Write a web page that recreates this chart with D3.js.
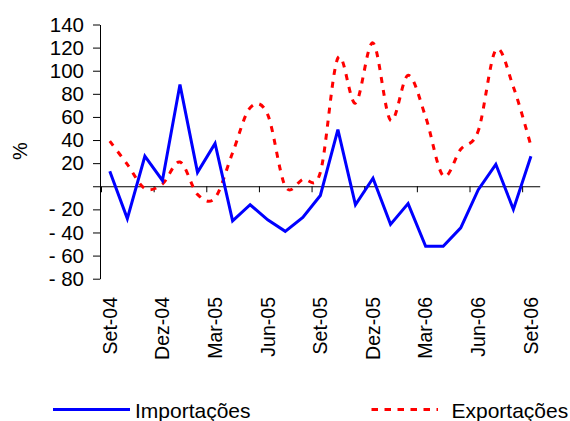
<!DOCTYPE html>
<html>
<head>
<meta charset="utf-8">
<script src="https://cdn.jsdelivr.net/npm/d3@7"></script>
<style>
  html, body { margin: 0; padding: 0; background: #fff; }
  svg { display: block; font-family: "Liberation Sans", Arial, sans-serif; }
</style>
</head>
<body>
<svg id="chart" width="570" height="421"></svg>
<script>
// Monthly categories, Sep 2004 – Sep 2006
const months = ["Set-04","Out-04","Nov-04","Dez-04","Jan-05","Fev-05","Mar-05","Abr-05","Mai-05",
  "Jun-05","Jul-05","Ago-05","Set-05","Out-05","Nov-05","Dez-05","Jan-06","Fev-06","Mar-06",
  "Abr-06","Mai-06","Jun-06","Jul-06","Ago-06","Set-06"];

// Year-on-year change, %
const importacoes = [13, -28, 26, 5, 88, 12, 37, -30, -16, -29, -39, -27, -8, 49, -16, 7, -33, -15, -52, -52, -36, -3, 19, -20, 26];
const exportacoes = [39, 19, -2, 2, 21, -7, -10, 29, 68, 62, 0, 6, 12, 111, 72, 124, 57, 96, 60, 9, 32, 48, 118, 86, 35];

const yTicks = [-80, -60, -40, -20, 0, 20, 40, 60, 80, 100, 120, 140];
const seriesNames = ["Importações", "Exportações"];

const svg = d3.select("#chart");
const plotLeft = 101, plotRight = 539.7, plotTop = 24.5, plotBottom = 278.7;

const x = d3.scaleBand().domain(months).range([plotLeft, plotRight]).padding(0);
const xi = d3.scaleLinear().domain([0, months.length]).range([plotLeft, plotRight]);
const y = d3.scaleLinear().domain([-80, 140]).range([plotBottom, plotTop]);
const cx = m => x(m) + x.bandwidth() / 2;

const fmt = v => v === 0 ? "" : (v < 0 ? "- " + Math.abs(v) : String(v));

// Y axis
const gy = svg.append("g").attr("transform", `translate(${plotLeft - 1},0)`)
  .call(d3.axisLeft(y).tickValues(yTicks).tickFormat(fmt).tickSize(7).tickSizeOuter(0).tickPadding(9));
gy.selectAll("text").attr("font-size", 20.5).attr("fill", "#000").attr("font-family", "Liberation Sans, Arial, sans-serif");
gy.selectAll("line, path").attr("stroke", "#000").attr("stroke-width", 1);

// X axis along zero, tick marks every three months
const gx = svg.append("g").attr("transform", `translate(0,${y(0)})`)
  .call(d3.axisBottom(xi).tickValues(d3.range(0, months.length, 3)).tickFormat("").tickSize(6).tickSizeOuter(0));
gx.selectAll("line, path").attr("stroke", "#000").attr("stroke-width", 1);

// Category labels below the plot
svg.append("g").selectAll("text")
  .data(months.filter((m, i) => i % 3 === 0))
  .join("text")
  .attr("transform", d => `translate(${cx(d)},297) rotate(-90)`)
  .attr("text-anchor", "end")
  .attr("dy", "0.35em")
  .attr("font-size", 19.5)
  .attr("fill", "#000")
  .text(d => d);

// Y axis title
svg.append("text")
  .attr("transform", "translate(20,151) rotate(-90)")
  .attr("text-anchor", "middle")
  .attr("dy", "0.35em")
  .attr("font-size", 20)
  .text("%");

// Series lines
const lineStraight = d3.line().x((d, i) => cx(months[i])).y(d => y(d));
const lineSmooth = d3.line().x((d, i) => cx(months[i])).y(d => y(d)).curve(d3.curveCatmullRom.alpha(0));

svg.append("path").datum(exportacoes)
  .attr("d", lineSmooth)
  .attr("fill", "none").attr("stroke", "#ff0000").attr("stroke-width", 3)
  .attr("stroke-dasharray", "6,7");

svg.append("path").datum(importacoes)
  .attr("d", lineStraight)
  .attr("fill", "none").attr("stroke", "#0000ff").attr("stroke-width", 3)
  .attr("stroke-linejoin", "miter");

// Legend
const legend = [
  { name: seriesNames[0], color: "#0000ff", dash: null, x1: 53, x2: 130, tx: 135 },
  { name: seriesNames[1], color: "#ff0000", dash: "6.5,6.5", x1: 371.5, x2: 438, tx: 451.5 }
];
const lg = svg.append("g").selectAll("g").data(legend).join("g");
lg.append("line")
  .attr("x1", d => d.x1).attr("x2", d => d.x2)
  .attr("y1", 409.5).attr("y2", 409.5)
  .attr("stroke", d => d.color).attr("stroke-width", 3)
  .attr("stroke-dasharray", d => d.dash);
lg.append("text")
  .attr("x", d => d.tx).attr("y", 417.5)
  .attr("font-size", 21)
  .attr("fill", "#000")
  .text(d => d.name);
</script>
</body>
</html>
